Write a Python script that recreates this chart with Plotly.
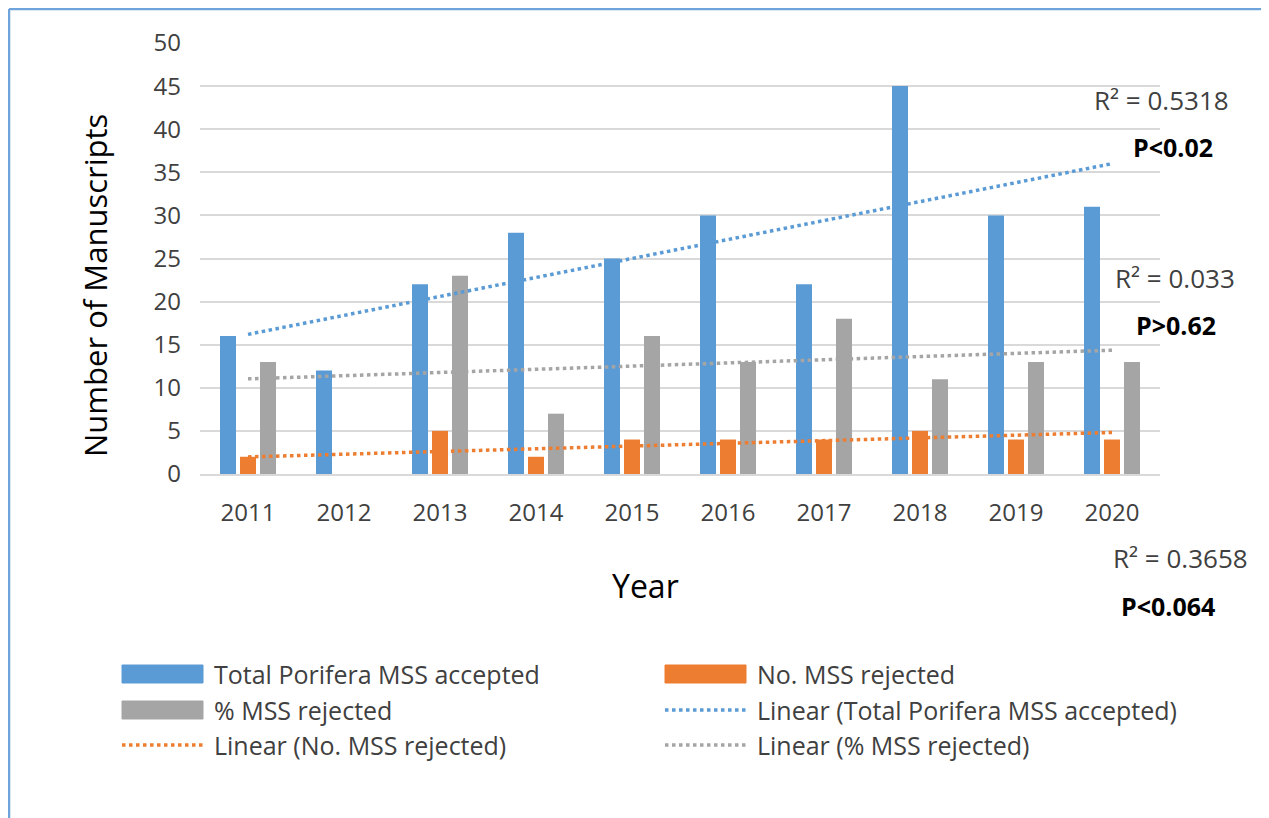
import numpy as np
import plotly.graph_objects as go

years = ['2011', '2012', '2013', '2014', '2015', '2016', '2017', '2018', '2019', '2020']
total_accepted = [16, 12, 22, 28, 25, 30, 22, 45, 30, 31]
no_rejected = [2, 0, 5, 2, 4, 4, 4, 5, 4, 4]
pct_rejected = [13, 0, 23, 7, 16, 13, 18, 11, 13, 13]

series_names = ['Total Porifera MSS accepted', 'No. MSS rejected', '% MSS rejected']
colors = ['#5b9bd5', '#ed7d31', '#a5a5a5']

stats_r2 = ['R\u00b2 = 0.5318', 'R\u00b2 = 0.033', 'R\u00b2 = 0.3658']
stats_p = ['P<0.02', 'P>0.62', 'P<0.064']

FONT = 'Open Sans'
TXT = '#404040'

# plot area in screen pixels: x 200..1160, y 43..474
L, R, T, B = 200, 1160, 43, 474
W, H = 1269, 818
OFF = 8  # page body margin


def px(x):
    return (x - L) / (R - L)


def py(y):
    return (B - y) / (B - T)


fig = go.Figure()

for name, vals, c in zip(series_names, [total_accepted, no_rejected, pct_rejected], colors):
    fig.add_trace(go.Bar(
        name=name,
        x=years,
        y=vals,
        marker=dict(color=c, line=dict(width=0)),
        showlegend=False,
    ))

# linear trendlines (least squares, like Excel)
idx = np.arange(len(years))
for name, vals, c in zip(series_names, [total_accepted, no_rejected, pct_rejected], colors):
    k, b = np.polyfit(idx, vals, 1)
    fig.add_trace(go.Scatter(
        name='Linear (' + name + ')',
        x=[years[0], years[-1]],
        y=[b, k * idx[-1] + b],
        mode='lines',
        line=dict(color=c, width=3.5, dash='dot'),
        showlegend=False,
    ))

shapes = []
annotations = []

# white text boxes behind the stats labels (hide the gridlines)
for y0, y1 in [(118, 184), (248, 352)]:
    shapes.append(dict(type='rect', xref='paper', yref='paper', layer='between',
                       x0=px(1110), x1=px(1250), y0=py(y1), y1=py(y0),
                       fillcolor='white', line=dict(width=0)))

r2_pos = [(1161, 100), (1175, 278), (1180, 558)]
p_pos = [(1173, 147), (1176, 325), (1168, 606)]
for t, (x, y) in zip(stats_r2, r2_pos):
    annotations.append(dict(text=t, xref='paper', yref='paper', x=px(x), y=py(y),
                            showarrow=False, xanchor='center', yanchor='middle',
                            font=dict(family=FONT, size=26, color=TXT)))
for t, (x, y) in zip(stats_p, p_pos):
    annotations.append(dict(text='<b>' + t + '</b>', xref='paper', yref='paper', x=px(x), y=py(y),
                            showarrow=False, xanchor='center', yanchor='middle',
                            font=dict(family=FONT, size=25, color='black')))

# axis titles (placed where the original has them, not centred on the plot)
annotations.append(dict(text='Year', xref='paper', yref='paper', x=px(645), y=py(585),
                        showarrow=False, xanchor='center', yanchor='middle',
                        font=dict(family=FONT, size=32, color='black')))
annotations.append(dict(text='Number of Manuscripts', xref='paper', yref='paper', x=px(95), y=py(286),
                        showarrow=False, xanchor='center', yanchor='middle', textangle=-90,
                        font=dict(family=FONT, size=31, color='black')))

# legend drawn by hand: two columns, three rows
legend_items = [
    ('bar', colors[0], series_names[0]),
    ('bar', colors[1], series_names[1]),
    ('bar', colors[2], series_names[2]),
    ('line', colors[0], 'Linear (' + series_names[0] + ')'),
    ('line', colors[1], 'Linear (' + series_names[1] + ')'),
    ('line', colors[2], 'Linear (' + series_names[2] + ')'),
]
col_x = [122, 665]
row_y = [674, 710, 745]
for i, (kind, c, label) in enumerate(legend_items):
    x0 = col_x[i % 2]
    y = row_y[i // 2]
    if kind == 'bar':
        shapes.append(dict(type='rect', xref='paper', yref='paper',
                           x0=px(x0), x1=px(x0 + 81), y0=py(y + 9), y1=py(y - 9),
                           fillcolor=c, line=dict(color=c, width=1)))
    else:
        shapes.append(dict(type='line', xref='paper', yref='paper',
                           x0=px(x0), x1=px(x0 + 81), y0=py(y), y1=py(y),
                           line=dict(color=c, width=3.5, dash='dot')))
    annotations.append(dict(text=label, xref='paper', yref='paper', x=px(x0 + 90), y=py(y),
                            showarrow=False, xanchor='left', yanchor='middle',
                            font=dict(family=FONT, size=25, color=TXT)))

# chart frame
shapes.append(dict(type='line', xref='paper', yref='paper', x0=px(9), x1=px(9), y0=py(830), y1=py(9),
                   line=dict(color='#6fa3dc', width=2.5)))
shapes.append(dict(type='line', xref='paper', yref='paper', x0=px(9), x1=px(1264), y0=py(9), y1=py(9),
                   line=dict(color='#6fa3dc', width=2.5)))
shapes.append(dict(type='line', xref='paper', yref='paper', x0=px(1264), x1=px(1264), y0=py(830), y1=py(9),
                   line=dict(color='#dde6f0', width=1.5)))

fig.update_layout(
    width=W, height=H,
    margin=dict(l=L - OFF, r=W - R + OFF, t=T - OFF, b=H - B + OFF),
    paper_bgcolor='white',
    plot_bgcolor='white',
    barmode='group',
    bargap=0.375,
    bargroupgap=0.2,
    showlegend=False,
    shapes=shapes,
    annotations=annotations,
    font=dict(family=FONT, color=TXT),
)

fig.update_xaxes(
    type='category',
    showgrid=False,
    showline=True, linecolor='#d9d9d9', linewidth=1.5,
    tickfont=dict(family=FONT, size=24, color=TXT),
    ticklabelstandoff=16,
)
fig.update_yaxes(
    range=[0, 50],
    dtick=5,
    showgrid=True, gridcolor='#d9d9d9', gridwidth=1.5,
    zeroline=False,
    showline=False,
    tickfont=dict(family=FONT, size=24, color=TXT),
    ticklabelstandoff=18,
)

fig.write_html('out.html')
